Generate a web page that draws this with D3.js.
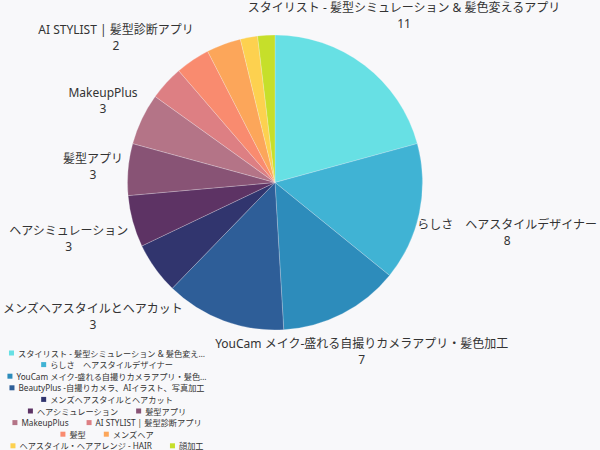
<!DOCTYPE html>
<html>
<head>
<meta charset="utf-8">
<script src="https://cdn.jsdelivr.net/npm/d3@7"></script>
<style>
html,body{margin:0;padding:0;background:#f8f8fa;}
svg{display:block;}
text{font-family:"Noto Sans","Noto Sans CJK JP",sans-serif;fill:#333;}
</style>
</head>
<body>
<svg id="chart" width="600" height="450"></svg>
<script>
const categories = [
  "スタイリスト - 髪型シミュレーション & 髪色変えるアプリ",
  "らしさ　ヘアスタイルデザイナー",
  "YouCam メイク-盛れる自撮りカメラアプリ・髪色加工",
  "BeautyPlus -自撮りカメラ、AIイラスト、写真加工",
  "メンズヘアスタイルとヘアカット",
  "ヘアシミュレーション",
  "髪型アプリ",
  "MakeupPlus",
  "AI STYLIST | 髪型診断アプリ",
  "髪型",
  "メンズヘア",
  "ヘアスタイル・ヘアアレンジ - HAIR",
  "顔加工"
];
const values = [11, 8, 7, 7, 3, 3, 3, 3, 2, 2, 2, 1, 1];
const palette = ["#67e0e4","#40b3d4","#2d8cbb","#2e5e98","#31356e","#5d3364","#885375","#b47487","#dd7f83","#f98b6f","#fca65a","#fdd14f","#c6df2a"];

const data = categories.map((c, i) => ({name: c, value: values[i]}));
const svg = d3.select("#chart");
const W = 600, H = 450;
const cx = 275, cy = 182.5, R = 147.5;

const color = d3.scaleOrdinal().domain(categories).range(palette);
const pie = d3.pie().value(d => d.value).sort(null).startAngle(0).endAngle(2 * Math.PI);
const arcs = pie(data);
const arcGen = d3.arc().innerRadius(0).outerRadius(R);

const g = svg.append("g").attr("transform", `translate(${cx},${cy})`);
g.selectAll("path.slice").data(arcs).enter().append("path")
  .attr("class", "slice")
  .attr("d", arcGen)
  .attr("fill", d => color(d.data.name))
  .attr("stroke", "#f8f8fa").attr("stroke-width", 0.4).attr("stroke-opacity", 0.6);

// measurement helper
const meas = svg.append("text").attr("visibility", "hidden");
function textW(str, size) {
  meas.attr("font-size", size).text(str);
  return meas.node().getComputedTextLength();
}

// labels placed outside along mid-angle, pushed out until box clears the circle
const labelSize = 12, lineH = 16, gap = 4.5;
const placed = [];
const labelG = svg.append("g");
arcs.forEach(a => {
  const mid = (a.startAngle + a.endAngle) / 2;
  const dx = Math.sin(mid), dy = -Math.cos(mid);
  const w = Math.max(textW(a.data.name, labelSize), textW(String(a.data.value), labelSize));
  const h = lineH * 2 + 2;
  function nearest(t) {
    const bx = cx + dx * t, by = cy + dy * t;
    const nx = Math.max(bx - w / 2, Math.min(cx, bx + w / 2));
    const ny = Math.max(by - h / 2, Math.min(cy, by + h / 2));
    return Math.hypot(nx - cx, ny - cy);
  }
  let lo = 0, hi = 600;
  for (let k = 0; k < 60; k++) {
    const m = (lo + hi) / 2;
    if (nearest(m) < R + gap) lo = m; else hi = m;
  }
  let bx = cx + dx * hi, by = cy + dy * hi;
  // keep the text inside the canvas
  bx = Math.min(W - 3 - w / 2, Math.max(3 + w / 2, bx));
  by = Math.max(lineH / 2 + 7.5, by);
  const box = {x0: bx - w / 2, x1: bx + w / 2, y0: by - h / 2, y1: by + h / 2};
  const overlaps = placed.some(p => !(box.x1 < p.x0 || box.x0 > p.x1 || box.y1 < p.y0 || box.y0 > p.y1));
  if (overlaps) return;
  placed.push(box);
  const t = labelG.append("text").attr("font-size", labelSize).attr("text-anchor", "middle");
  t.append("tspan").attr("x", bx).attr("y", by - lineH / 2).attr("dominant-baseline", "central").text(a.data.name);
  t.append("tspan").attr("x", bx).attr("y", by + lineH / 2).attr("dominant-baseline", "central").text(a.data.value);
});

// legend: centered flow layout with truncation
const legSize = 8.2, legMaxRow = 214, legCenterX = 107, legY0 = 353, legLineH = 11.6;
const iconS = 5, iconGap = 4, itemGap = 18, maxText = 192;
function truncate(str) {
  if (textW(str, legSize) <= maxText) return str;
  let s = str;
  while (s.length > 1 && textW(s + "…", legSize) > maxText) s = s.slice(0, -1);
  return s.trimEnd() + "…";
}
const items = categories.map(c => {
  const label = truncate(c);
  const tw = textW(label, legSize);
  return {name: c, label, tw, w: iconS + iconGap + tw};
});
const rows = [];
let cur = [], curW = 0;
items.forEach(it => {
  const add = cur.length ? itemGap + it.w : it.w;
  if (cur.length && curW + add > legMaxRow) {
    rows.push({items: cur, w: curW});
    cur = [it]; curW = it.w;
  } else { cur.push(it); curW += add; }
});
if (cur.length) rows.push({items: cur, w: curW});

const legG = svg.append("g");
rows.forEach((row, ri) => {
  let x = legCenterX - row.w / 2;
  const y = legY0 + ri * legLineH;
  row.items.forEach(it => {
    legG.append("rect").attr("x", x).attr("y", y - iconS / 2).attr("width", iconS).attr("height", iconS)
      .attr("fill", color(it.name));
    legG.append("text").attr("x", x + iconS + iconGap).attr("y", y)
      .attr("dominant-baseline", "central").attr("font-size", legSize).text(it.label);
    x += it.w + itemGap;
  });
});
meas.remove();
</script>
</body>
</html>
